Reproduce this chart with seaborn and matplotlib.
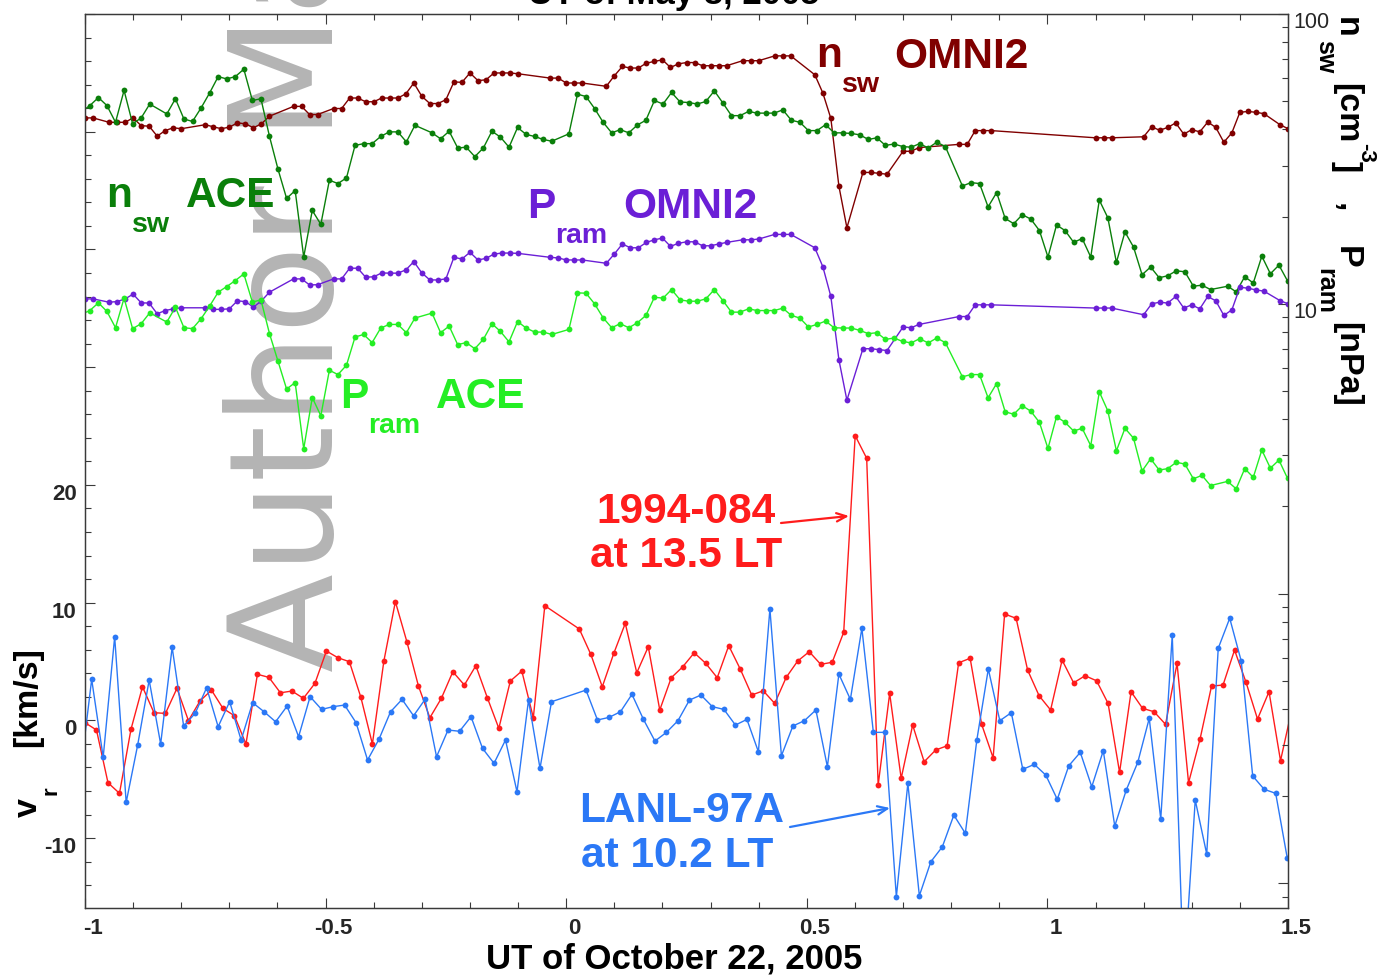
import numpy as np
import pandas as pd
import matplotlib
matplotlib.use("Agg")
import matplotlib.pyplot as plt
import matplotlib.ticker as mticker
from matplotlib.transforms import ScaledTranslation
import seaborn as sns

# ---------------- data ----------------
# OMNI2, 1-min values, minutes after 23:00 UT on Oct 21
omni_min = [0, 1, 3, 4, 5, 6, 7, 8, 9, 10,
            11, 12, 15, 16, 17, 18, 19, 20, 21, 22,
            23, 26, 27, 28, 29, 31, 32, 33, 34, 35,
            36, 37, 38, 39, 40, 41, 42, 43, 44, 45,
            46, 47, 48, 49, 50, 51, 52, 53, 54, 58,
            59, 60, 61, 62, 65, 66, 67, 68, 69, 70,
            71, 72, 73, 74, 75, 76, 77, 78, 79, 80,
            82, 83, 84, 86, 87, 88, 91, 92, 93, 94,
            95, 97, 98, 99, 100, 102, 103, 104, 109, 110,
            111, 112, 113, 126, 127, 128, 132, 133, 134, 135,
            136, 137, 138, 139, 140, 141, 142, 143, 144, 145,
            146, 147, 149, 150]
nsw_omni = [43.8, 43.8, 42.3, 42.3, 42.3, 43.8, 41.2, 41.0, 37.9, 39.6,
            40.5, 40.2, 41.5, 40.8, 40.2, 40.7, 42.1, 41.8, 40.5, 41.8,
            44.4, 48.0, 48.0, 45.0, 45.0, 47.2, 47.2, 51.3, 51.3, 49.8,
            49.8, 51.3, 51.3, 51.3, 53.0, 57.8, 52.0, 49.1, 49.1, 50.6,
            58.3, 58.1, 62.6, 58.9, 59.3, 62.6, 62.6, 62.6, 62.2, 60.1,
            60.1, 57.8, 57.8, 57.8, 56.3, 61.2, 65.9, 65.1, 65.1, 67.7,
            68.6, 69.5, 65.4, 67.3, 68.0, 68.0, 66.3, 66.3, 66.3, 66.3,
            69.0, 69.0, 69.0, 71.7, 71.7, 71.7, 61.7, 53.4, 43.6, 25.5,
            18.3, 28.4, 28.4, 28.2, 28.0, 33.6, 33.6, 34.6, 35.5, 35.5,
            39.6, 39.6, 39.6, 37.4, 37.4, 37.4, 37.7, 40.8, 39.7, 40.6,
            42.1, 38.5, 39.9, 39.2, 42.4, 40.6, 36.1, 38.9, 45.8, 46.1,
            45.8, 45.3, 41.5, 40.2]
pram_omni = [10.40, 10.40, 10.13, 10.18, 10.40, 10.80, 10.08, 10.06, 9.24, 9.48,
             9.61, 9.69, 9.69, 9.57, 9.57, 9.61, 10.24, 10.18, 9.74, 10.24,
             10.97, 12.19, 12.19, 11.62, 11.64, 12.19, 12.19, 13.27, 13.27, 12.35,
             12.40, 12.78, 12.76, 12.76, 13.09, 13.98, 12.78, 12.09, 12.09, 12.19,
             14.47, 14.28, 15.06, 14.17, 14.35, 14.85, 14.97, 14.97, 14.93, 14.47,
             14.40, 14.17, 14.17, 14.17, 13.80, 14.85, 16.08, 15.61, 15.61, 16.29,
             16.63, 16.86, 15.79, 16.17, 16.37, 16.37, 15.86, 15.86, 16.08, 16.29,
             16.63, 16.63, 16.73, 17.36, 17.36, 17.36, 15.61, 13.43, 10.60, 6.42,
             4.65, 7.00, 7.00, 6.95, 6.90, 8.32, 8.27, 8.49, 9.04, 9.04,
             9.92, 9.92, 9.92, 9.67, 9.67, 9.67, 9.17, 10.00, 10.13, 10.06,
             10.60, 9.67, 9.92, 9.61, 10.60, 10.24, 9.12, 9.53, 11.41, 11.32,
             11.17, 11.06, 10.26, 10.00]

# ACE, 64-s records
ace_t0 = -1.0077          # UT hours of record 0
ace_dt = 64.0 / 3600.0
ace_rec = [0, 1, 2, 3, 4, 5, 6, 7, 8, 10,
           11, 12, 13, 14, 15, 16, 17, 18, 19, 20,
           21, 22, 23, 24, 25, 26, 27, 28, 29, 30,
           31, 32, 33, 34, 35, 36, 37, 38, 39, 41,
           42, 43, 44, 45, 46, 47, 48, 49, 50, 51,
           52, 53, 54, 55, 57, 58, 59, 60, 61, 62,
           63, 64, 65, 66, 67, 68, 69, 70, 71, 72,
           73, 74, 75, 76, 77, 78, 79, 80, 81, 82,
           83, 84, 85, 86, 87, 88, 89, 90, 91, 92,
           93, 94, 95, 96, 97, 98, 99, 100, 101, 103,
           104, 105, 106, 107, 108, 109, 110, 111, 112, 113,
           114, 115, 116, 117, 118, 119, 120, 121, 122, 123,
           124, 125, 126, 127, 128, 129, 130, 131, 132, 134,
           135, 136, 137, 138, 139, 140, 141]
nsw_ace = [46.0, 48.3, 51.5, 48.3, 42.3, 54.5, 41.8, 43.8, 48.9, 45.2,
           51.0, 43.4, 42.6, 47.4, 53.4, 60.8, 59.7, 60.8, 64.5, 50.3,
           51.0, 37.8, 29.1, 23.1, 24.6, 14.5, 21.0, 18.8, 26.7, 26.0,
           27.2, 35.2, 35.7, 35.7, 37.8, 39.2, 39.2, 36.2, 41.3, 38.9,
           37.1, 39.4, 34.5, 34.7, 32.2, 34.5, 39.4, 37.6, 34.7, 40.6,
           38.4, 37.8, 36.9, 36.4, 38.6, 52.9, 51.9, 47.2, 42.3, 38.9,
           39.9, 38.9, 41.4, 43.0, 50.3, 48.9, 53.6, 49.7, 49.5, 48.9,
           49.9, 54.3, 49.3, 44.6, 44.6, 46.1, 45.5, 45.5, 45.5, 46.7,
           43.0, 42.3, 39.6, 39.6, 41.5, 38.9, 38.9, 38.7, 38.3, 36.9,
           37.4, 35.2, 35.6, 34.9, 34.7, 35.7, 34.5, 36.1, 34.9, 25.5,
           26.2, 26.0, 21.6, 24.2, 19.7, 18.9, 20.3, 19.6, 17.9, 14.5,
           18.7, 17.9, 16.3, 16.8, 14.5, 22.8, 19.8, 13.9, 17.7, 15.7,
           12.6, 13.4, 12.3, 12.5, 13.0, 12.9, 11.5, 11.6, 11.2, 11.5,
           11.0, 12.4, 11.8, 14.6, 12.7, 13.6, 12.0]
pram_ace = [9.2, 9.48, 10.08, 9.41, 8.27, 10.46, 8.21, 8.54, 9.31, 8.65,
            9.74, 8.27, 8.21, 8.88, 9.82, 10.97, 11.47, 12.03, 12.68, 10.14,
            10.32, 7.89, 6.34, 5.08, 5.35, 3.16, 4.75, 4.11, 5.90, 5.70,
            6.14, 7.68, 7.84, 7.35, 8.25, 8.49, 8.49, 7.95, 8.93, 9.29,
            7.95, 8.38, 7.23, 7.35, 7.00, 7.54, 8.54, 8.03, 7.39, 8.69,
            8.25, 7.99, 7.99, 7.84, 8.16, 10.91, 10.88, 10.0, 8.95, 8.27,
            8.54, 8.27, 8.60, 9.12, 10.54, 10.46, 11.20, 10.32, 10.21, 10.21,
            10.40, 11.20, 10.26, 9.36, 9.36, 9.61, 9.48, 9.48, 9.48, 9.66,
            9.12, 8.93, 8.32, 8.49, 8.72, 8.27, 8.25, 8.25, 8.10, 7.89,
            7.95, 7.54, 7.62, 7.42, 7.33, 7.58, 7.33, 7.62, 7.35, 5.60,
            5.70, 5.70, 4.74, 5.31, 4.24, 4.16, 4.45, 4.26, 3.90, 3.17,
            4.08, 3.90, 3.64, 3.72, 3.24, 4.97, 4.27, 3.11, 3.72, 3.44,
            2.65, 2.92, 2.67, 2.70, 2.84, 2.80, 2.49, 2.56, 2.36, 2.44,
            2.30, 2.70, 2.52, 3.13, 2.71, 2.89, 2.50]

# geosynchronous radial flow, 86-s spins (nan = no sample)
vr_dt = 86.0 / 3600.0
t0_1994 = -1.0
vr_1994_084 = [-0.20, -0.82, -5.30, -6.20, -0.76, 2.85, 0.65, 0.59, 2.72, -0.03,
               1.64, 2.57, 1.02, 0.39, -2.01, 3.91, 3.65, 2.34, 2.49, 1.87,
               3.14, 5.89, 5.32, 4.98, 1.95, -2.01, 5.04, 10.08, 6.68, 2.94,
               0.22, 1.87, 4.13, 3.00, 4.64, 1.92, -0.68, 3.34, 4.19, 0.22,
               9.74, np.nan, np.nan, 7.76, 5.61, 2.85, 5.69, 8.24, 4.04, 6.25,
               0.88, 3.62, 4.55, 5.74, 4.84, 3.62, 6.34, 4.36, 2.15, 2.51,
               1.44, 3.65, 5.04, 5.83, 4.76, 4.93, 7.48, 24.18, 22.26, -5.50,
               2.29, -4.93, -0.40, -3.52, -2.52, -2.16, 4.89, 5.27, -0.34, -3.18,
               9.03, 8.67, 4.27, 2.09, 0.88, 5.12, 3.19, 3.79, 3.36, 1.44,
               -4.42, 2.43, 1.02, 0.73, -0.34, 4.84, -5.30, -1.59, 2.91, 3.00,
               5.97, 3.23, 0.11, 2.43, -3.43, 1.0]
t0_lanl = -1.0100
vr_lanl97a = [-4.6, 3.48, -3.14, 7.10, -6.97, -2.10, 3.42, -2.01, 6.20, -0.48,
              0.59, 2.77, -0.54, 1.58, -1.67, 1.50, 0.73, -0.12, 1.21, -1.39,
              2.01, 0.93, 1.16, 1.30, -0.20, -3.37, -1.59, 0.73, 1.78, 0.39,
              1.78, -3.09, -0.82, -0.93, 0.31, -2.38, -3.65, -1.67, -6.07, 1.72,
              -4.08, 1.58, np.nan, np.nan, 2.57, 0.03, 0.25, 0.73, 2.21, 0.08,
              -1.76, -1.02, -0.03, 1.72, 2.15, 1.16, 0.93, -0.40, 0.08, -2.67,
              9.46, -3.01, -0.48, -0.03, 0.88, -3.94, 3.93, 1.78, 7.82, -1.02,
              -1.02, -14.99, -5.35, -14.90, -12.01, -10.74, -8.05, -9.60, -1.67, 4.36,
              -0.03, 0.65, -4.16, -3.74, -4.65, -6.71, -3.86, -2.72, -5.64, -2.58,
              -8.98, -5.92, -3.57, 0.17, -8.39, 7.25, -22.0, -6.77, -11.36, 6.12,
              8.67, 5.04, -4.73, -5.86, -6.20, -11.67]

# colours
c_nsw_omni = "#800000"
c_nsw_ace = "#0a7f0a"
c_pram_omni = "#6b1fd6"
c_pram_ace = "#24ee24"
c_red = "#ff1c1c"
c_blue = "#2b78f6"

# ---------------- tables ----------------
omni = pd.DataFrame({"t": np.array(omni_min) / 60.0 - 1.0,
                     "nsw": nsw_omni, "pram": pram_omni})
ace = pd.DataFrame({"t": ace_t0 + np.array(ace_rec) * ace_dt,
                    "nsw": nsw_ace, "pram": pram_ace})
sat84 = pd.DataFrame({"t": t0_1994 + np.arange(len(vr_1994_084)) * vr_dt,
                      "vr": vr_1994_084}).dropna()
lanl = pd.DataFrame({"t": t0_lanl + np.arange(len(vr_lanl97a)) * vr_dt,
                     "vr": vr_lanl97a}).dropna()

# ---------------- style ----------------
sns.set_style("white")
plt.rcParams["font.family"] = ["Liberation Sans", "DejaVu Sans"]
plt.rcParams["axes.edgecolor"] = "#3a3a3a"
plt.rcParams["axes.linewidth"] = 0.9

W, H = 1386, 977
fig = plt.figure(figsize=(W / 100, H / 100), dpi=100)
fig.patch.set_facecolor("white")


def fxy(x, y):
    # pixel position in the picture -> figure fraction
    return x / W, 1 - y / H


ax = fig.add_axes([85 / W, (H - 908) / H, 1203 / W, 894 / H])
ax.set_facecolor("none")
ax2 = ax.twinx()
ax2.set_yscale("log")

line_kw = dict(marker="o", markersize=4.2, markeredgewidth=0, linewidth=1.0,
               estimator=None, sort=False)

sns.lineplot(data=sat84, x="t", y="vr", ax=ax, color=c_red, **line_kw)
sns.lineplot(data=lanl, x="t", y="vr", ax=ax, color=c_blue, **line_kw)

sns.lineplot(data=omni, x="t", y="nsw", ax=ax2, color=c_nsw_omni, **line_kw)
sns.lineplot(data=ace, x="t", y="nsw", ax=ax2, color=c_nsw_ace, **line_kw)
sns.lineplot(data=omni, x="t", y="pram", ax=ax2, color=c_pram_omni, **line_kw)
sns.lineplot(data=ace, x="t", y="pram", ax=ax2, color=c_pram_ace, **line_kw)

# ---------------- axes ----------------
ax.set_xlim(-1, 1.5)
ax.set_ylim(-15.94, 60.0)
ax2.set_ylim(0.0823, 100)
for a in (ax, ax2):
    a.set_xlabel("")
    a.set_ylabel("")

ax.xaxis.set_major_locator(mticker.MultipleLocator(0.5))
ax.xaxis.set_minor_locator(mticker.MultipleLocator(0.1))
ax.xaxis.set_major_formatter(mticker.FuncFormatter(lambda v, p: f"{v:g}"))
ax.yaxis.set_major_locator(mticker.MultipleLocator(10))
ax.yaxis.set_minor_locator(mticker.MultipleLocator(2))
ax.yaxis.set_major_formatter(
    mticker.FuncFormatter(lambda v, p: f"{v:g}" if -10 <= v <= 20 else ""))

ax2.yaxis.set_major_locator(mticker.LogLocator(base=10))
ax2.yaxis.set_minor_locator(mticker.LogLocator(base=10, subs=np.arange(2, 10)))
ax2.yaxis.set_major_formatter(
    mticker.FuncFormatter(lambda v, p: f"{v:g}" if v >= 9.9 else ""))
ax2.yaxis.set_minor_formatter(mticker.NullFormatter())

ax.tick_params(axis="x", which="both", direction="in", top=True, bottom=True,
               labelsize=16, pad=7, color="#3a3a3a")
ax.tick_params(axis="y", which="both", direction="in", left=True, right=False,
               labelsize=16, pad=6, color="#3a3a3a")
ax2.tick_params(axis="y", which="both", direction="in", right=True, left=False,
                labelsize=15.5, pad=4, color="#3a3a3a")
for a in (ax, ax2):
    a.tick_params(which="major", length=7, width=0.8)
    a.tick_params(which="minor", length=4, width=0.8)

for lab in ax.get_xticklabels():
    lab.set_fontweight("bold")
    lab.set_transform(lab.get_transform() + ScaledTranslation(0.08, 0, fig.dpi_scale_trans))
for lab in ax.get_yticklabels():
    lab.set_fontweight("bold")
    lab.set_transform(lab.get_transform() + ScaledTranslation(0, -0.07, fig.dpi_scale_trans))
for lab in ax2.get_yticklabels():
    lab.set_transform(lab.get_transform() + ScaledTranslation(0, -0.06, fig.dpi_scale_trans))

# ---------------- watermark ----------------
fig.text(*fxy(333, 672), "Author Manuscript", rotation=90, rotation_mode="anchor",
         ha="left", va="baseline", fontsize=104, family="DejaVu Sans",
         color="#b4b4b4", zorder=-1)

# ---------------- texts ----------------
def put(x, y, s, color="black", size=30.5, rot=0, weight="bold", ha="left"):
    fig.text(*fxy(x, y), s, color=color, fontsize=size, fontweight=weight,
             rotation=rot, rotation_mode="anchor", ha=ha, va="baseline")


put(816, 67, "n", c_nsw_omni)
put(842, 92, "sw", c_nsw_omni, 20.5)
put(894, 68, "OMNI2", c_nsw_omni)

put(106, 207, "n", c_nsw_ace)
put(132, 232, "sw", c_nsw_ace, 20.5)
put(186, 207, "ACE", c_nsw_ace)

put(527, 218, "P", c_pram_omni)
put(555, 243, "ram", c_pram_omni, 20.5)
put(623, 218, "OMNI2", c_pram_omni)

put(340, 408, "P", c_pram_ace)
put(368, 433, "ram", c_pram_ace, 20.5)
put(436, 408, "ACE", c_pram_ace)

put(686, 523, "1994-084", c_red, ha="center")
put(686, 567, "at 13.5 LT", c_red, ha="center")
put(682, 822, "LANL-97A", c_blue, ha="center")
put(677, 867, "at 10.2 LT", c_blue, ha="center")

ax.annotate("", xy=fxy(849, 516), xytext=fxy(781, 523), xycoords="figure fraction",
            textcoords="figure fraction",
            arrowprops=dict(arrowstyle="->,head_length=0.7,head_width=0.3",
                            color=c_red, lw=1.6, shrinkA=0, shrinkB=0))
ax.annotate("", xy=fxy(890, 808), xytext=fxy(790, 827), xycoords="figure fraction",
            textcoords="figure fraction",
            arrowprops=dict(arrowstyle="->,head_length=0.7,head_width=0.3",
                            color=c_blue, lw=1.6, shrinkA=0, shrinkB=0))

# axis titles
put(674, 968, "UT of October 22, 2005", size=25, ha="center")
put(674, 4, "UT of May 8, 2005", size=25, ha="center")

put(37, 817, "v", size=24.5, rot=90)
put(56, 795, "r", size=16, rot=90)
put(36, 747, "[km/s]", size=24.5, rot=90)

put(1338, 17, "n", size=24.5, rot=-90)
put(1318, 40, "sw", size=18, rot=-90)
put(1338, 83, "[cm", size=24.5, rot=-90)
put(1360, 143, "-3", size=16, rot=-90)
put(1338, 161, "]", size=24.5, rot=-90)
put(1338, 203, ",", size=24.5, rot=-90)
put(1338, 246, "P", size=24.5, rot=-90)
put(1318, 268, "ram", size=18, rot=-90)
put(1338, 322, "[nPa]", size=24.5, rot=-90)

fig.savefig("out.png", dpi=100)
